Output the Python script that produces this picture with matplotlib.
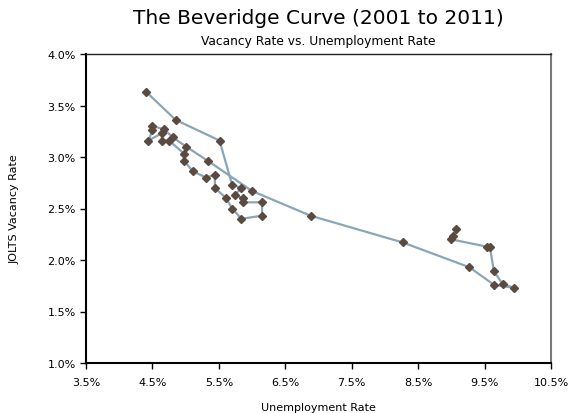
import matplotlib.pyplot as plt
from matplotlib.ticker import FuncFormatter, MultipleLocator

# quarterly points, 2001 Q2 to 2011 Q3 (percent)
unemployment = [
    4.41, 4.85, 5.51,
    5.70, 5.84, 5.74, 5.87,
    5.87, 6.15, 6.15, 5.84,
    5.70, 5.61, 5.44, 5.44,
    5.31, 5.11, 4.98, 4.98,
    4.75, 4.64, 4.64, 4.44,
    4.50, 4.50, 4.67, 4.81,
    5.01, 5.34, 6.00, 6.88,
    8.27, 9.27, 9.64, 9.94,
    9.77, 9.64, 9.58, 9.53,
    9.00, 9.03, 9.07,
]
vacancy = [
    3.63, 3.36, 3.16,
    2.73, 2.70, 2.63, 2.60,
    2.56, 2.56, 2.43, 2.40,
    2.50, 2.60, 2.70, 2.83,
    2.80, 2.86, 2.96, 3.03,
    3.16, 3.16, 3.23, 3.16,
    3.26, 3.30, 3.27, 3.19,
    3.10, 2.96, 2.67, 2.43,
    2.17, 1.93, 1.76, 1.73,
    1.77, 1.89, 2.13, 2.13,
    2.20, 2.23, 2.30,
]

x_ticks = [3.5, 4.5, 5.5, 6.5, 7.5, 8.5, 9.5, 10.5]

fig = plt.figure(figsize=(5.87, 4.14), dpi=100)
ax = fig.add_axes([86/587, 50/414, 465/587, 309/414])

ax.plot(unemployment, vacancy, '-', color='#8aa5b8', linewidth=1.6,
        marker='D', markersize=4.0, markerfacecolor='#5b4a40',
        markeredgecolor='#5b4a40', zorder=3)

ax.set_xlim(3.5, 10.5)
ax.set_ylim(1.0, 4.0)
ax.set_xticks(x_ticks)
ax.yaxis.set_major_locator(MultipleLocator(0.5))
ax.xaxis.set_major_formatter(FuncFormatter(lambda v, p: '%.1f%%' % v))
ax.yaxis.set_major_formatter(FuncFormatter(lambda v, p: '%.1f%%' % v))
ax.tick_params(axis='both', direction='out', length=4, width=1,
               labelsize=8, colors='black')
ax.tick_params(axis='x', pad=6)

for side in ['left', 'bottom']:
    ax.spines[side].set_linewidth(1.5)
    ax.spines[side].set_color('black')
ax.spines['top'].set_linewidth(1.0)
ax.spines['top'].set_color('#222222')
ax.spines['right'].set_linewidth(1.5)
ax.spines['right'].set_color('#7a7a7a')

ax.set_xlabel('Unemployment Rate', fontsize=8, labelpad=11)
ax.set_ylabel('JOLTS Vacancy Rate', fontsize=8, labelpad=20)

fig.text(0.5425, 1 - 18/414, 'The Beveridge Curve (2001 to 2011)',
         ha='center', va='center', fontsize=14.5)
fig.text(0.5425, 1 - 42/414, 'Vacancy Rate vs. Unemployment Rate',
         ha='center', va='center', fontsize=8.8)

fig.savefig('out.png', dpi=100)
